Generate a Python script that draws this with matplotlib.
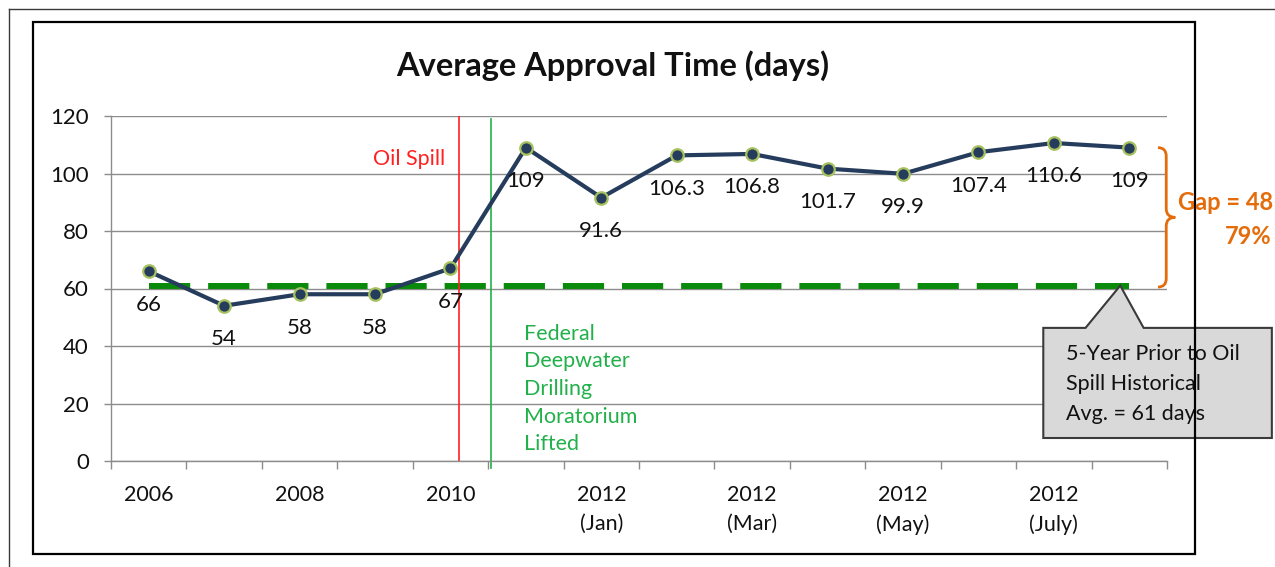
import numpy as np
import matplotlib.pyplot as plt
from matplotlib.patches import Rectangle, Polygon, PathPatch
from matplotlib.path import Path
from matplotlib.lines import Line2D

plt.rcParams['font.family'] = ['Lato', 'DejaVu Sans']

# data
periods = ['2006', '2007', '2008', '2009', '2010', '2011',
           '2012 Jan', '2012 Feb', '2012 Mar', '2012 Apr',
           '2012 May', '2012 Jun', '2012 July', '2012 Aug']
approval_days = [66, 54, 58, 58, 67, 109, 91.6, 106.3, 106.8, 101.7,
                 99.9, 107.4, 110.6, 109]
value_labels = ['66', '54', '58', '58', '67', '109', '91.6', '106.3', '106.8',
                '101.7', '99.9', '107.4', '110.6', '109']
tick_labels = ['2006', '2008', '2010', '2012\n(Jan)', '2012\n(Mar)',
               '2012\n(May)', '2012\n(July)']
historical_avg = 61
gap_days = 48
gap_pct = 79
oil_spill_pos = 4.11        # between 2010 and 2011
moratorium_pos = 4.54

W, H = 1275, 567
fig = plt.figure(figsize=(W / 100, H / 100), dpi=100)

def fx(x):
    return x / W

def fy(y):
    return 1 - y / H

# frames
fig.add_artist(Line2D([fx(9), fx(W)], [fy(9), fy(9)], color='#3a3a3a', lw=1))
fig.add_artist(Line2D([fx(9), fx(9)], [fy(9), fy(H)], color='#3a3a3a', lw=1))
fig.add_artist(Rectangle((fx(33), fy(554)), fx(1195 - 33), (554 - 22) / H,
                         fill=False, ec='black', lw=1.6))

ax = fig.add_axes([fx(111), fy(461), fx(1167 - 111), (461 - 116) / H])
x = np.arange(len(periods))

ax.set_xlim(-0.5, len(periods) - 0.5)
ax.set_ylim(0, 120)
ax.set_yticks(range(0, 121, 20))
ax.yaxis.grid(True, color='#8c8c8c', lw=1.0)
ax.set_axisbelow(True)
for s in ['top', 'right']:
    ax.spines[s].set_visible(False)
for s in ['left', 'bottom']:
    ax.spines[s].set_color('#8c8c8c')
    ax.spines[s].set_linewidth(1.0)

ax.set_xticks(np.arange(-0.5, len(periods) + 0.5, 1.0))
ax.set_xticklabels([])
ax.set_xticks(x[::2], minor=True)
ax.set_xticklabels(tick_labels, minor=True, fontsize=15.5, linespacing=1.6,
                   color='#111111')
ax.tick_params(axis='x', which='major', length=6, color='#8c8c8c', width=1.0)
ax.tick_params(axis='x', which='minor', length=0, pad=17)
ax.tick_params(axis='y', length=5, color='#8c8c8c', width=1.0, labelsize=16,
               labelcolor='#111111', pad=11)
for lab in ax.get_xticklabels(minor=True):
    lab.set_verticalalignment('top')

# historical average
ax.hlines(historical_avg, x[0], x[-1], color='#0a8a0a', lw=4.3,
          linestyle=(0, (6.9, 3.0)), zorder=2)

# event lines
ax.axvline(oil_spill_pos, color='#ff2020', lw=1.2, zorder=2)
ax.axvline(moratorium_pos, ymin=-0.02, ymax=0.99, color='#22b04a', lw=1.2,
           clip_on=False, zorder=2)

ax.plot(x, approval_days, color='#263c5c', lw=3.0, marker='o', ms=9,
        mfc='#263c5c', mec='#a6c25e', mew=1.6, zorder=4)

for xi, v, t in zip(x, approval_days, value_labels):
    ax.annotate(t, (xi, v), xytext=(0, -24), textcoords='offset points',
                ha='center', va='center', fontsize=16, color='#111111', zorder=5)

ax.text(oil_spill_pos - 0.18, 105, 'Oil Spill', color='#ff2020', fontsize=15.5,
        ha='right', va='center')
ax.text(moratorium_pos + 0.44, 25, 'Federal\nDeepwater\nDrilling\nMoratorium\nLifted',
        color='#22b04a', fontsize=15.5, ha='left', va='center', linespacing=1.48)

fig.text(fx(613), fy(66), 'Average Approval Time (days)', fontsize=23.5,
         fontweight='bold', ha='center', va='center', color='#111111')

# gap brace
top = historical_avg + gap_days
bot = historical_avg - 0.5
mid = (top + bot) / 2
x0, xm, x1 = 13.38, 13.49, 13.61
r = 3.0
verts = [(x0, top), (xm, top), (xm, top - r),
         (xm, mid + r), (xm, mid), (x1, mid),
         (xm, mid), (xm, mid - r),
         (xm, bot + r), (xm, bot), (x0, bot)]
codes = [Path.MOVETO, Path.CURVE3, Path.CURVE3,
         Path.LINETO, Path.CURVE3, Path.CURVE3,
         Path.CURVE3, Path.CURVE3,
         Path.LINETO, Path.CURVE3, Path.CURVE3]
ax.add_patch(PathPatch(Path(verts, codes), fill=False, ec='#e46c0a', lw=2.0,
                       clip_on=False, zorder=5))
fig.text(fx(1273), fy(203), f'Gap = {gap_days}', color='#e46c0a', fontsize=17,
         fontweight='bold', ha='right', va='center')
fig.text(fx(1272), fy(236), f'{gap_pct}%', color='#e46c0a', fontsize=17,
         fontweight='bold', ha='right', va='center')

# callout
bx0, bx1, by0, by1 = 11.86, 14.89, 8.0, 46.3
callout = [(bx0, by1), (12.42, by1), (12.88, historical_avg), (13.19, by1),
           (bx1, by1), (bx1, by0), (bx0, by0)]
ax.add_patch(Polygon(callout, closed=True, fc='#d9d9d9', ec='#3a3a3a', lw=1.5,
                     clip_on=False, zorder=6))
ax.text(12.16, 26.8, '5-Year Prior to Oil\nSpill Historical\nAvg. = 61 days',
        fontsize=15.5, color='#111111', ha='left', va='center', linespacing=1.65,
        zorder=7)

fig.savefig('out.png', dpi=100)
